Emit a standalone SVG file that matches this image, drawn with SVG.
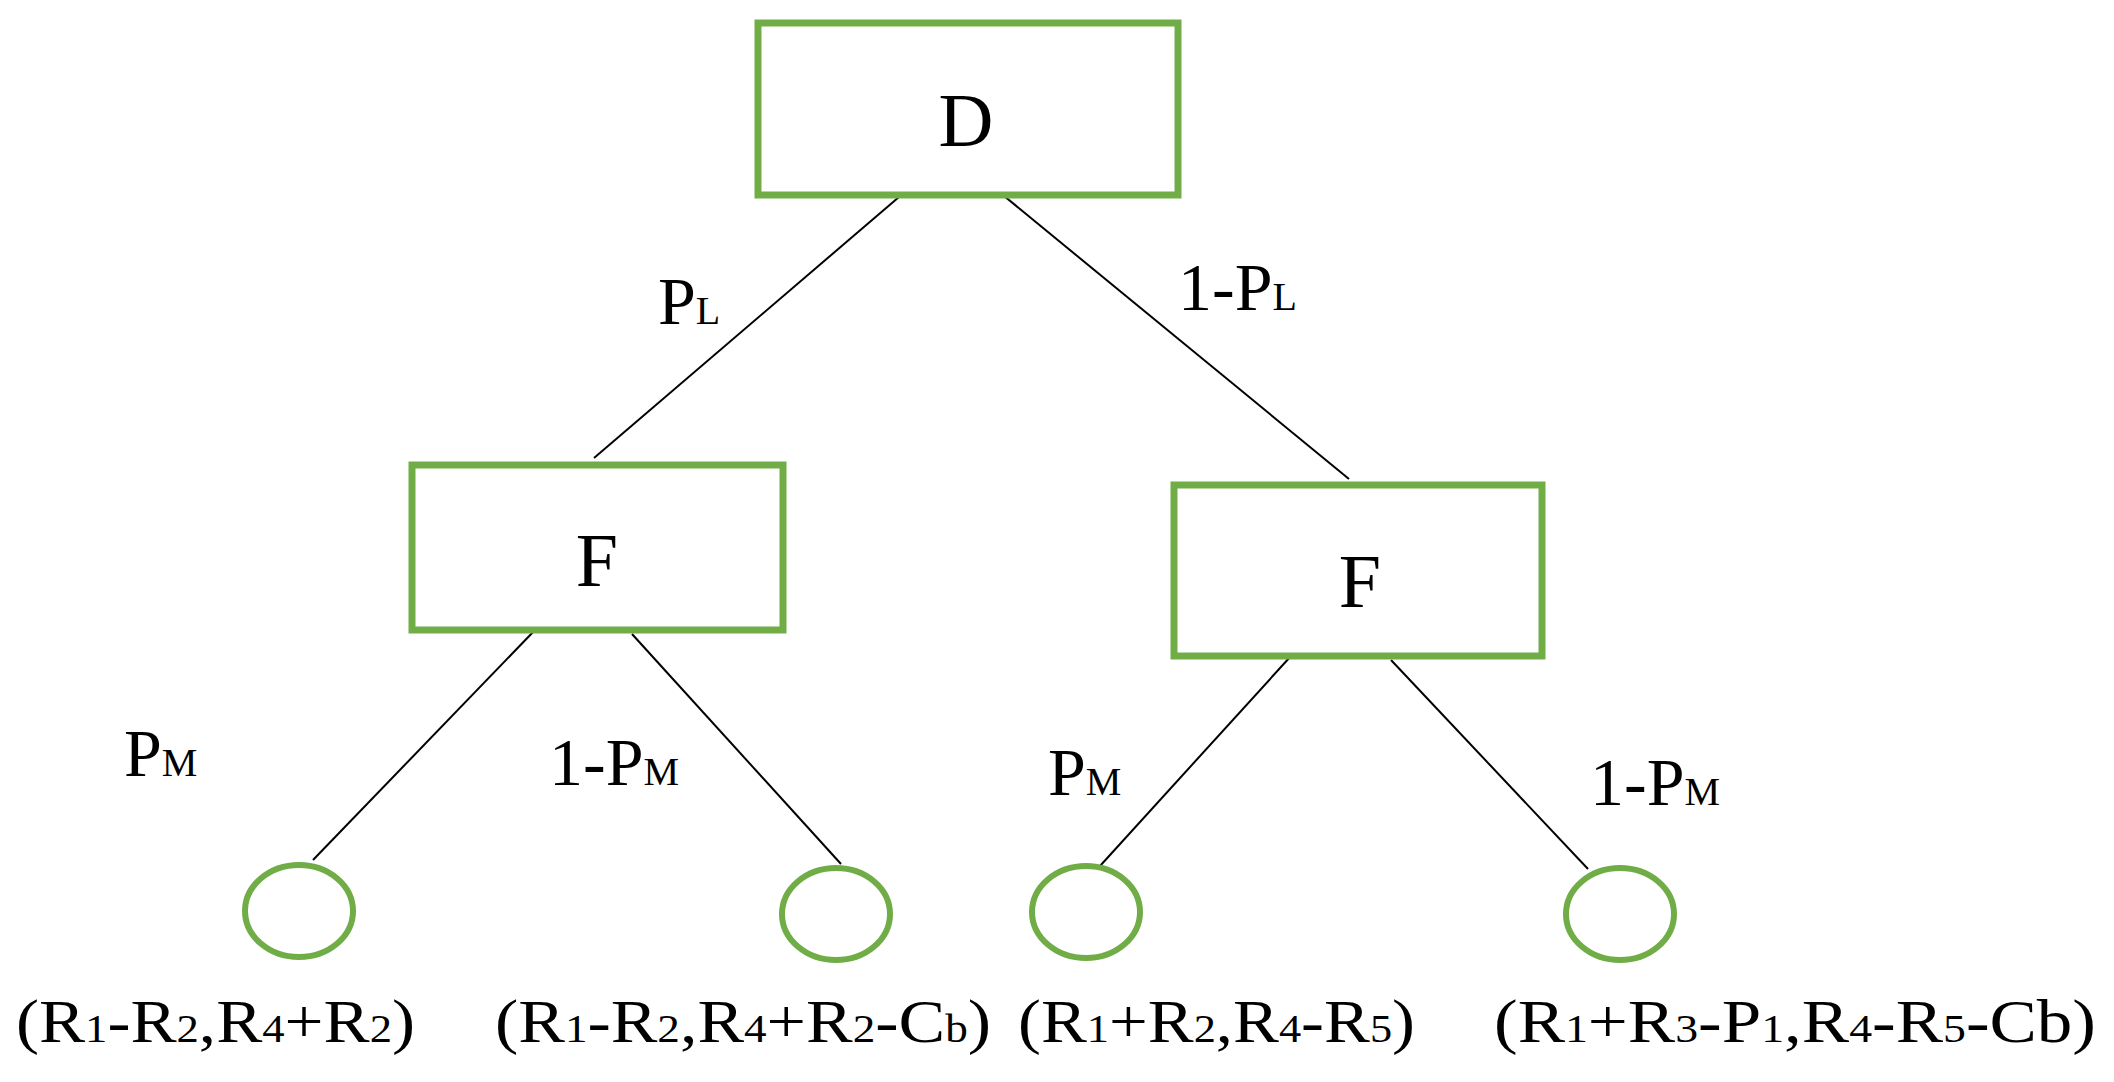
<svg xmlns="http://www.w3.org/2000/svg" width="2114" height="1082" viewBox="0 0 2114 1082">
<style>
.box{fill:#fff;stroke:#70ad47;stroke-width:7}
.leaf{fill:#fff;stroke:#70ad47;stroke-width:6}
.e{stroke:#000;stroke-width:2;fill:none}
text{font-family:"Liberation Serif","DejaVu Serif",serif;fill:#000}
.n{font-size:76px;text-anchor:middle}
.l{font-size:68px}
.b{font-size:62px}
.s{font-size:40px}
</style>
<rect width="2114" height="1082" fill="#fff"/>
<g id="connectors">
<line class="e" x1="906" y1="191" x2="594" y2="458"/>
<line class="e" x1="998" y1="191" x2="1349" y2="479"/>
<line class="e" x1="535" y1="630" x2="313" y2="860"/>
<line class="e" x1="632" y1="634" x2="841" y2="864"/>
<line class="e" x1="1291" y1="656" x2="1100" y2="866"/>
<line class="e" x1="1391" y1="660" x2="1588" y2="869"/>
</g>
<g id="D"><rect class="box" x="758" y="23" width="420" height="172"/><text class="n" x="966" y="146">D</text></g>
<g id="F1"><rect class="box" x="412" y="465" width="371" height="165"/><text class="n" x="597" y="586">F</text></g>
<g id="F2"><rect class="box" x="1174" y="485" width="368" height="171"/><text class="n" x="1360" y="607">F</text></g>
<g id="L1"><ellipse class="leaf" cx="299" cy="911" rx="54" ry="46"/></g>
<g id="L2"><ellipse class="leaf" cx="836" cy="914" rx="54" ry="46"/></g>
<g id="L3"><ellipse class="leaf" cx="1086" cy="912" rx="54" ry="46"/></g>
<g id="L4"><ellipse class="leaf" cx="1620" cy="914" rx="54" ry="46"/></g>
<g id="edge-labels">
<text class="l" x="658" y="324">P<tspan class="s">L</tspan></text>
<text class="l" x="1178" y="310">1-P<tspan class="s">L</tspan></text>
<text class="l" x="124" y="776">P<tspan class="s">M</tspan></text>
<text class="l" x="549" y="785">1-P<tspan class="s">M</tspan></text>
<text class="l" x="1048" y="795">P<tspan class="s">M</tspan></text>
<text class="l" x="1590" y="805">1-P<tspan class="s">M</tspan></text>
</g>
<g id="payoffs">
<text class="b" x="16" y="1042" textLength="399" lengthAdjust="spacingAndGlyphs">(R<tspan class="s">1</tspan>-R<tspan class="s">2</tspan>,R<tspan class="s">4</tspan>+R<tspan class="s">2</tspan>)</text>
<text class="b" x="495" y="1042" textLength="496" lengthAdjust="spacingAndGlyphs">(R<tspan class="s">1</tspan>-R<tspan class="s">2</tspan>,R<tspan class="s">4</tspan>+R<tspan class="s">2</tspan>-C<tspan class="s">b</tspan>)</text>
<text class="b" x="1018" y="1042" textLength="397" lengthAdjust="spacingAndGlyphs">(R<tspan class="s">1</tspan>+R<tspan class="s">2</tspan>,R<tspan class="s">4</tspan>-R<tspan class="s">5</tspan>)</text>
<text class="b" x="1494" y="1042" textLength="602" lengthAdjust="spacingAndGlyphs">(R<tspan class="s">1</tspan>+R<tspan class="s">3</tspan>-P<tspan class="s">1</tspan>,R<tspan class="s">4</tspan>-R<tspan class="s">5</tspan>-Cb)</text>
</g>
</svg>
